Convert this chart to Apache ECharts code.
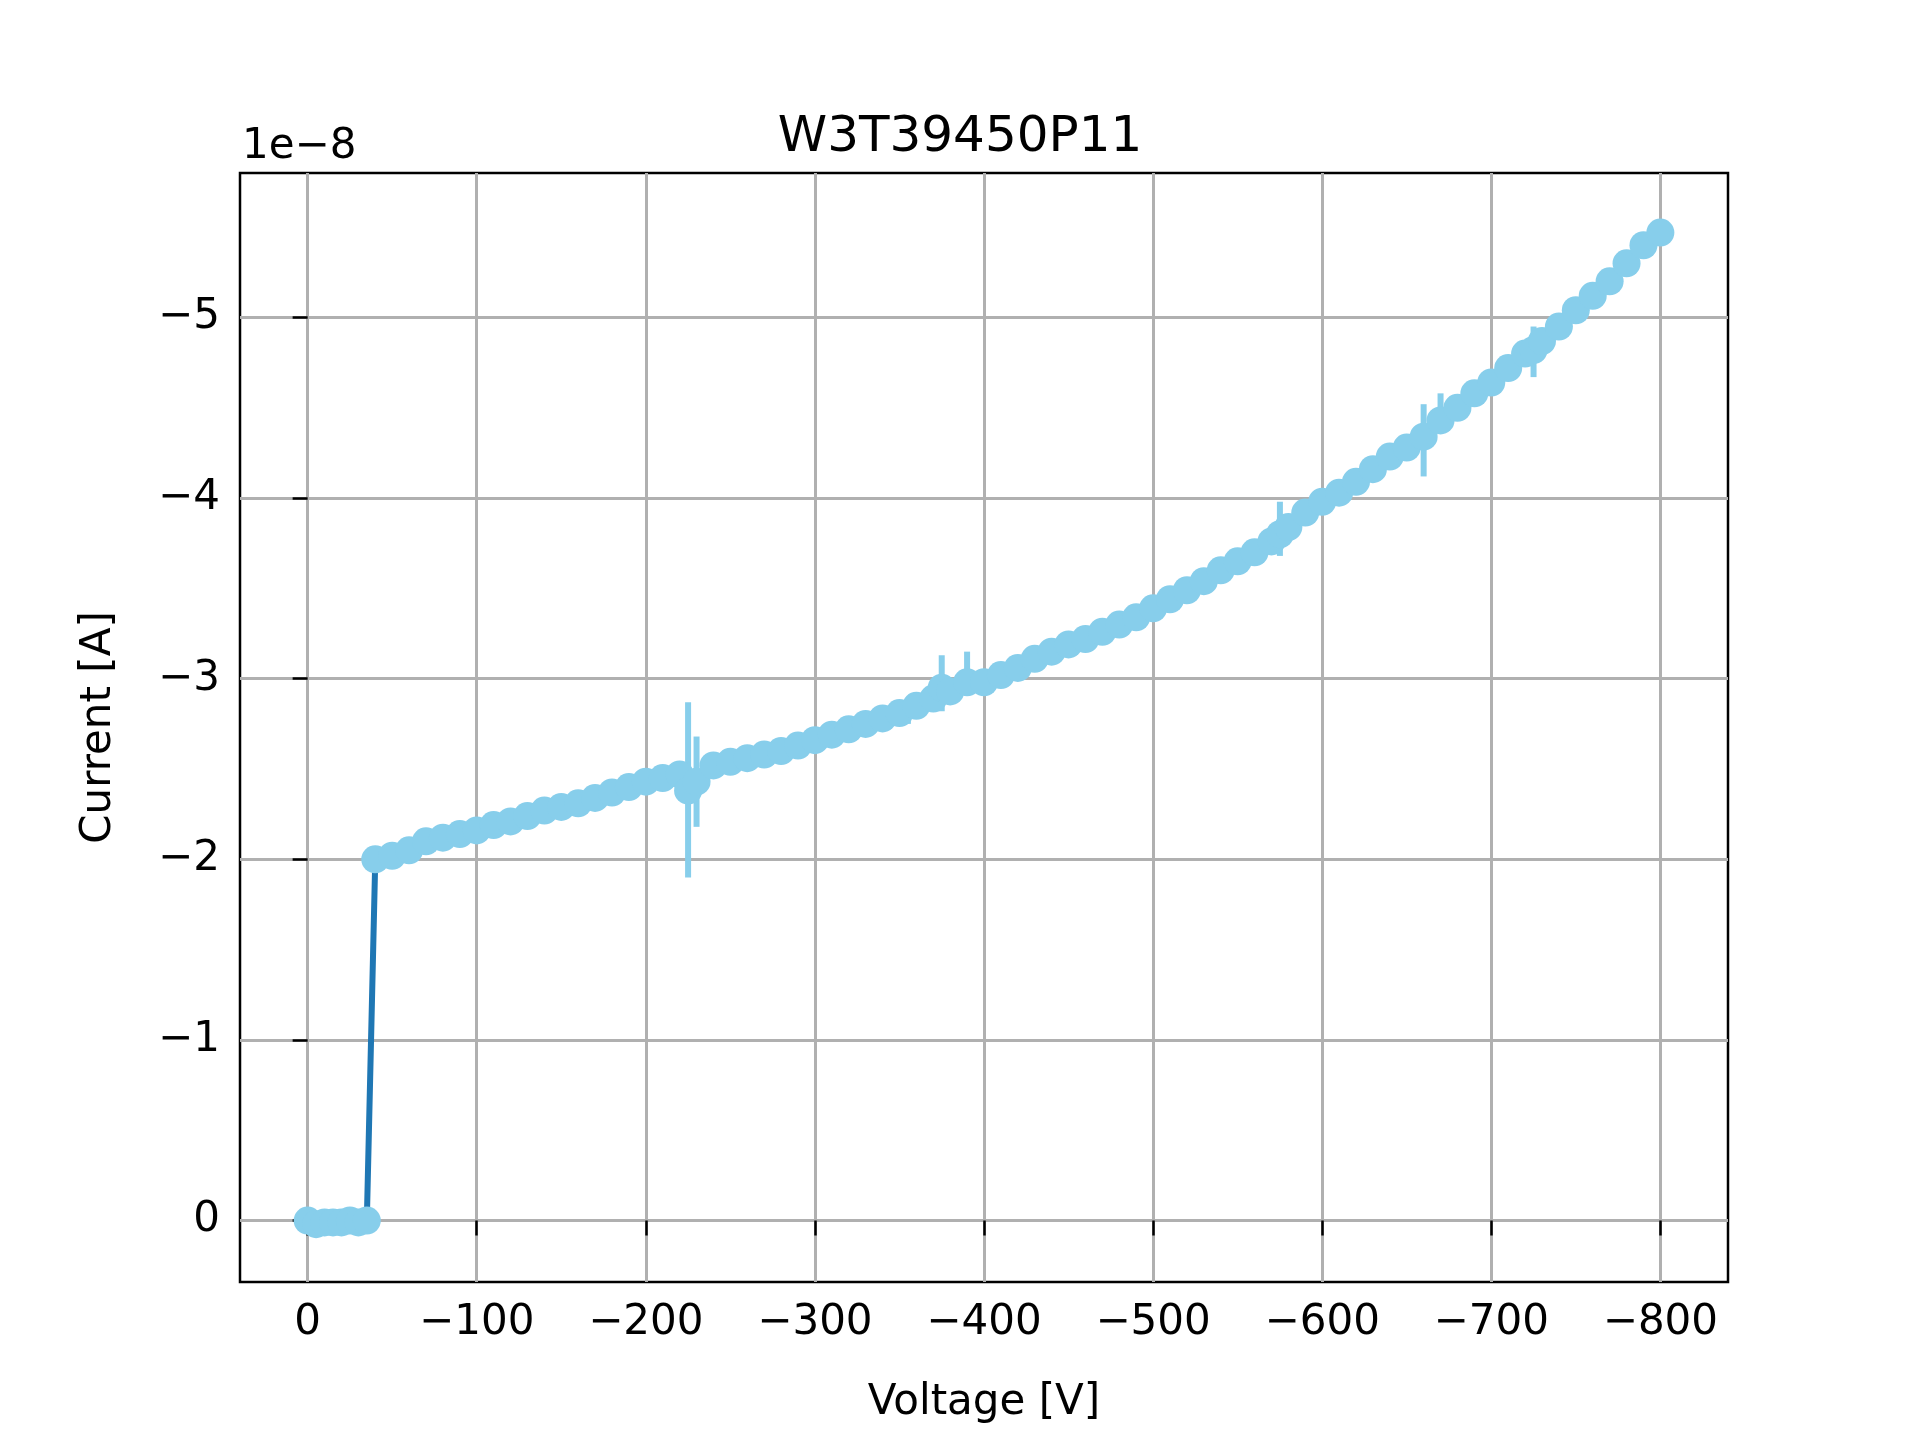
<!DOCTYPE html>
<html>
<head>
<meta charset="utf-8">
<script src="https://cdn.jsdelivr.net/npm/echarts@6/dist/echarts.min.js"></script>
<style>html,body{margin:0;padding:0;background:#fff}#main{width:1920px;height:1440px}</style>
</head>
<body>
<div id="main"></div>
<script>
// voltages [V] and currents [1e-8 A]
var voltage = [0, -5, -10, -15, -20, -25, -30, -35,
  -40, -50, -60, -70, -80, -90, -100, -110, -120, -130, -140, -150, -160, -170, -180, -190,
  -200, -210, -220, -225, -230, -240, -250, -260, -270, -280, -290, -300, -310, -320, -330, -340,
  -350, -360, -370, -375, -380, -390, -400, -410, -420, -430, -440, -450, -460, -470, -480, -490,
  -500, -510, -520, -530, -540, -550, -560, -570, -575, -580, -590, -600, -610, -620, -630, -640,
  -650, -660, -670, -680, -690, -700, -710, -720, -725, -730, -740, -750, -760, -770, -780, -790, -800];
var current = [0, 0.02, 0.01, 0.01, 0.01, 0.0, 0.01, 0.0,
  -2.00, -2.02, -2.05, -2.10, -2.12, -2.14, -2.16, -2.19, -2.21, -2.24, -2.27, -2.29, -2.31, -2.34, -2.37, -2.40,
  -2.43, -2.45, -2.47, -2.38, -2.43, -2.52, -2.54, -2.56, -2.58, -2.60, -2.63, -2.66, -2.69, -2.72, -2.75, -2.78,
  -2.81, -2.85, -2.89, -2.95, -2.93, -2.98, -2.98, -3.02, -3.06, -3.11, -3.15, -3.19, -3.22, -3.26, -3.30, -3.34,
  -3.39, -3.44, -3.49, -3.54, -3.60, -3.65, -3.70, -3.76, -3.80, -3.84, -3.92, -3.98, -4.03, -4.09, -4.16, -4.23,
  -4.28, -4.34, -4.43, -4.50, -4.58, -4.64, -4.72, -4.80, -4.82, -4.87, -4.95, -5.04, -5.12, -5.20, -5.30, -5.40, -5.47];
// error bars: [voltage, low, high]
var errorBars = [[-225, -1.90, -2.87], [-230, -2.18, -2.68], [-355, -2.75, -2.88], [-375, -2.82, -3.13],
  [-390, -2.92, -3.15], [-575, -3.68, -3.98], [-660, -4.12, -4.52], [-670, -4.40, -4.58], [-725, -4.67, -4.95]];
var xTicks = [0, -100, -200, -300, -400, -500, -600, -700, -800];
var yTicks = [0, -1, -2, -3, -4, -5];

var pts = voltage.map(function (v, i) { return [v, current[i]]; });
var fmt = function (v) { return v === 0 ? '0' : String(v).replace('-', '\u2212'); };
var font = 'DejaVu Sans';

var chart = echarts.init(document.getElementById('main'));
chart.setOption({
  animation: false,
  title: { text: 'W3T39450P11', left: 'center', top: 108,
    textStyle: { fontFamily: font, fontSize: 50, fontWeight: 'normal', color: '#000' } },
  graphic: [{ type: 'text', left: 242, top: 126,
    style: { text: '1e\u22128', font: '42px "DejaVu Sans"', fill: '#000' } }],
  grid: { left: 240, right: 192, top: 173, bottom: 158, show: true,
    borderColor: '#000', borderWidth: 2.5, backgroundColor: 'transparent' },
  xAxis: {
    type: 'value', min: -840, max: 40, inverse: true,
    name: 'Voltage [V]', nameLocation: 'middle', nameGap: 100,
    nameTextStyle: { fontFamily: font, fontSize: 42, color: '#000' },
    axisLine: { show: false },
    axisTick: { show: true, length: 15, inside: false, customValues: xTicks,
      lineStyle: { color: '#000', width: 2.5 } },
    axisLabel: { customValues: xTicks, formatter: fmt, margin: 20,
      fontFamily: font, fontSize: 42, color: '#000' },
    splitLine: { show: true, lineStyle: { color: '#b0b0b0', width: 3 } }
  },
  yAxis: {
    type: 'value', min: -5.8, max: 0.34, inverse: true,
    name: 'Current [A]', nameLocation: 'middle', nameGap: 120, nameRotate: 90,
    nameTextStyle: { fontFamily: font, fontSize: 42, color: '#000' },
    axisLine: { show: false },
    axisTick: { show: true, length: 15, inside: false, customValues: yTicks,
      lineStyle: { color: '#000', width: 2.5 } },
    axisLabel: { customValues: yTicks, formatter: fmt, margin: 20,
      fontFamily: font, fontSize: 42, color: '#000' },
    splitLine: { show: true, lineStyle: { color: '#b0b0b0', width: 3 } }
  },
  series: [
    { type: 'line', data: pts, showSymbol: false, z: 1,
      lineStyle: { color: '#1f77b4', width: 6 } },
    { type: 'custom', z: 2, data: errorBars,
      renderItem: function (params, api) {
        var a = api.coord([api.value(0), api.value(1)]);
        var b = api.coord([api.value(0), api.value(2)]);
        return { type: 'line', shape: { x1: a[0], y1: a[1], x2: b[0], y2: b[1] },
          style: { stroke: '#87ceeb', lineWidth: 6 } };
      } },
    { type: 'scatter', data: pts, symbolSize: 28, z: 3,
      itemStyle: { color: '#87ceeb', opacity: 1 } }
  ]
});
</script>
</body>
</html>
